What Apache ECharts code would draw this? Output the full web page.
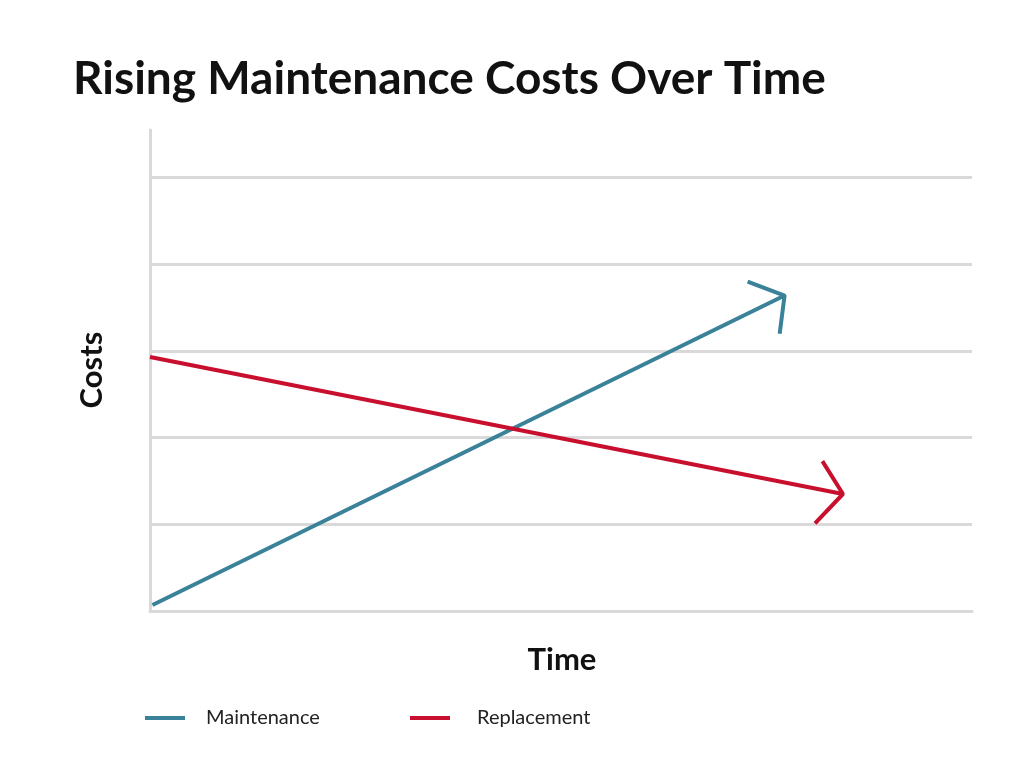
<!DOCTYPE html>
<html><head><meta charset="utf-8">
<script src="https://cdn.jsdelivr.net/npm/echarts@6/dist/echarts.min.js"></script>
<style>html,body{margin:0;background:#fff}#c{width:1024px;height:781px}</style>
</head><body><div id="c"></div>
<script>
const gridValues = [1, 2, 3, 4, 5];
const maintenance = [[0.03, 0.07], [7.72, 3.64]];
const maintenanceHead = [[7.27, 3.8], [7.72, 3.64], [7.66, 3.2]];
const replacement = [[0, 2.93], [8.43, 1.35]];
const replacementHead = [[8.18, 1.73], [8.43, 1.35], [8.09, 1.01]];
const teal = '#3a8299', red = '#c8102e';
const chart = echarts.init(document.getElementById('c'));
chart.setOption({
  animation: false,
  title: { text: 'Rising Maintenance Costs Over Time', left: 68, top: 51,
    textStyle: { fontFamily: 'Lato', fontWeight: 'bold', fontSize: 46, color: '#111' } },
  grid: { left: 150, right: 52, top: 130, bottom: 170 },
  xAxis: { type: 'value', min: 0, max: 10, axisLabel: { show: false }, axisTick: { show: false },
    splitLine: { show: false }, axisLine: { lineStyle: { color: '#d9d9d9', width: 3 } } },
  yAxis: { type: 'value', min: 0, max: 5.55, axisLabel: { show: false }, axisTick: { show: false },
    splitLine: { show: false }, axisLine: { show: true, lineStyle: { color: '#d9d9d9', width: 3 } } },
  legend: [
    { data: ['Maintenance'], left: 140, top: 703, itemWidth: 40, itemHeight: 4, icon: 'rect',
      textStyle: { fontFamily: 'Lato', fontSize: 20, color: '#222', padding: [0, 0, 0, 16] } },
    { data: ['Replacement'], left: 405, top: 703, itemWidth: 40, itemHeight: 4, icon: 'rect',
      textStyle: { fontFamily: 'Lato', fontSize: 20, color: '#222', padding: [0, 0, 0, 22] } }
  ],
  graphic: [
    { type: 'text', x: 92, y: 370, rotation: Math.PI / 2, style: { text: 'Costs', font: 'bold 31px Lato', fill: '#111', align: 'center', verticalAlign: 'middle' } },
    { type: 'text', x: 562, y: 660, style: { text: 'Time', font: 'bold 31px Lato', fill: '#111', align: 'center', verticalAlign: 'middle' } }
  ],
  series: [
    { name: 'grid', type: 'line', data: [], silent: true, z: 0,
      markLine: { symbol: 'none', silent: true, label: { show: false }, z: 0,
        lineStyle: { color: '#d9d9d9', width: 3, type: 'solid' },
        data: gridValues.map(v => ({ yAxis: v })) } },
    { name: 'Maintenance', type: 'line', z: 5, data: maintenance, symbol: 'none', color: teal, lineStyle: { width: 4, color: teal } },
    { name: 'mh', type: 'line', z: 5, data: maintenanceHead, symbol: 'none', lineStyle: { width: 4, color: teal } },
    { name: 'Replacement', type: 'line', z: 5, data: replacement, symbol: 'none', color: red, lineStyle: { width: 4, color: red } },
    { name: 'rh', type: 'line', z: 5, data: replacementHead, symbol: 'none', lineStyle: { width: 4, color: red } }
  ]
});
</script></body></html>
